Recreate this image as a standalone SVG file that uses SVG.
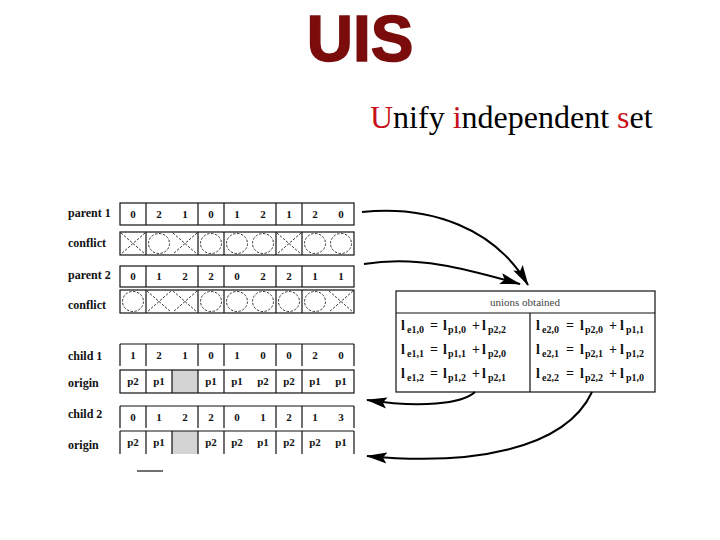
<svg xmlns="http://www.w3.org/2000/svg" width="720" height="540" viewBox="0 0 720 540">
<style>
.lbl{font-family:"Liberation Serif",serif;font-weight:bold;font-size:12px;fill:#111}
.cv{font-family:"Liberation Serif",serif;font-weight:bold;font-size:11px;fill:#111;text-anchor:middle}
.box{fill:none;stroke:#111;stroke-width:1.2}
.ln{stroke:#111;stroke-width:1.2}
.ci{fill:none;stroke:#222;stroke-width:0.9;stroke-dasharray:2.5 1.5}
.eq{font-family:"Liberation Serif",serif;font-weight:bold;font-size:14px;fill:#111}
.sb{font-size:10px}
.conn{fill:none;stroke:#000;stroke-width:2}
</style>
<defs>
<marker id="ah" markerWidth="22" markerHeight="12" refX="20" refY="6" orient="auto" markerUnits="userSpaceOnUse">
<path d="M0,0.5 L21,6 L0,11.5 L4,6 Z" fill="#000"/>
</marker>
</defs>
<rect width="720" height="540" fill="#fff"/>
<g id="title">
<text x="360" y="61" text-anchor="middle" font-family="Liberation Sans, Arial, sans-serif" font-weight="bold" font-size="64" fill="#7a0c0c" stroke="#7a0c0c" stroke-width="1.5">UIS</text>
<text x="370" y="128" font-family="Liberation Serif, serif" font-size="32" fill="#000"><tspan fill="#c8101a">U</tspan>nify <tspan fill="#c8101a">i</tspan>ndependent <tspan fill="#c8101a">s</tspan>et</text>
</g>
<g id="labels">
<text class="lbl" x="68" y="217">parent 1</text>
<text class="lbl" x="68" y="247">conflict</text>
<text class="lbl" x="68" y="279">parent 2</text>
<text class="lbl" x="68" y="309">conflict</text>
<text class="lbl" x="68" y="360">child 1</text>
<text class="lbl" x="68" y="387">origin</text>
<text class="lbl" x="68" y="418">child 2</text>
<text class="lbl" x="68" y="449">origin</text>
</g>
<g id="parent1">
<rect class="box" x="120" y="203" width="234" height="22"/>
<path class="ln" d="M146 203V225M198 203V225M224 203V225M276 203V225M302 203V225"/>
<text class="cv" y="218"><tspan x="133">0</tspan><tspan x="159">2</tspan><tspan x="185">1</tspan><tspan x="211">0</tspan><tspan x="237">1</tspan><tspan x="263">2</tspan><tspan x="289">1</tspan><tspan x="315">2</tspan><tspan x="341">0</tspan></text>
</g>
<g id="conflict1">
<rect class="box" x="120" y="232" width="234" height="23"/>
<path class="ln" d="M146 232V255M198 232V255M224 232V255M276 232V255M302 232V255"/>
<path class="ci" d="M121 233L145 254M145 233L121 254M173 233L197 254M197 233L173 254M277 233L301 254M301 233L277 254"/>
<ellipse class="ci" cx="159" cy="243.5" rx="10.5" ry="10"/>
<ellipse class="ci" cx="211" cy="243.5" rx="10.5" ry="10"/>
<ellipse class="ci" cx="237" cy="243.5" rx="10.5" ry="10"/>
<ellipse class="ci" cx="263" cy="243.5" rx="10.5" ry="10"/>
<ellipse class="ci" cx="315" cy="243.5" rx="10.5" ry="10"/>
<ellipse class="ci" cx="341" cy="243.5" rx="10.5" ry="10"/>
</g>
<g id="parent2">
<rect class="box" x="120" y="266" width="234" height="21"/>
<path class="ln" d="M146 266V287M198 266V287M224 266V287M276 266V287M302 266V287"/>
<text class="cv" y="280"><tspan x="133">0</tspan><tspan x="159">1</tspan><tspan x="185">2</tspan><tspan x="211">2</tspan><tspan x="237">0</tspan><tspan x="263">2</tspan><tspan x="289">2</tspan><tspan x="315">1</tspan><tspan x="341">1</tspan></text>
</g>
<g id="conflict2">
<rect class="box" x="120" y="290" width="234" height="23"/>
<path class="ln" d="M146 290V313M198 290V313M224 290V313M276 290V313M302 290V313"/>
<path class="ci" d="M147 291L171 312M171 291L147 312M173 291L197 312M197 291L173 312M329 291L353 312M353 291L329 312"/>
<ellipse class="ci" cx="133" cy="301.5" rx="10.5" ry="10"/>
<ellipse class="ci" cx="211" cy="301.5" rx="10.5" ry="10"/>
<ellipse class="ci" cx="237" cy="301.5" rx="10.5" ry="10"/>
<ellipse class="ci" cx="263" cy="301.5" rx="10.5" ry="10"/>
<ellipse class="ci" cx="289" cy="301.5" rx="10.5" ry="10"/>
<ellipse class="ci" cx="315" cy="301.5" rx="10.5" ry="10"/>
</g>
<g id="child1">
<path class="ln" d="M120 344H354M120 344V366M146 344V366M198 344V366M224 344V366M276 344V366M302 344V366M354 344V366"/>
<text class="cv" y="359"><tspan x="133">1</tspan><tspan x="159">2</tspan><tspan x="185">1</tspan><tspan x="211">0</tspan><tspan x="237">1</tspan><tspan x="263">0</tspan><tspan x="289">0</tspan><tspan x="315">2</tspan><tspan x="341">0</tspan></text>
</g>
<g id="origin1">
<rect x="172" y="370" width="26" height="23" fill="#d4d4d4"/>
<rect class="box" x="120" y="370" width="234" height="23"/>
<path class="ln" d="M146 370V393M172 370V393M198 370V393M224 370V393M276 370V393M302 370V393"/>
<text class="cv" y="385"><tspan x="133">p2</tspan><tspan x="159">p1</tspan><tspan x="211">p1</tspan><tspan x="237">p1</tspan><tspan x="263">p2</tspan><tspan x="289">p2</tspan><tspan x="315">p1</tspan><tspan x="341">p1</tspan></text>
</g>
<g id="child2">
<path class="ln" d="M120 406H354M120 406V428M146 406V428M198 406V428M224 406V428M276 406V428M302 406V428M354 406V428"/>
<text class="cv" y="421"><tspan x="133">0</tspan><tspan x="159">1</tspan><tspan x="185">2</tspan><tspan x="211">2</tspan><tspan x="237">0</tspan><tspan x="263">1</tspan><tspan x="289">2</tspan><tspan x="315">1</tspan><tspan x="341">3</tspan></text>
</g>
<g id="origin2">
<rect x="172" y="431" width="26" height="23" fill="#d4d4d4"/>
<path class="ln" d="M120 431H354M120 431V454M146 431V454M172 431V454M198 431V454M224 431V454M276 431V454M302 431V454M354 431V454"/>
<text class="cv" y="446"><tspan x="133">p2</tspan><tspan x="159">p1</tspan><tspan x="211">p2</tspan><tspan x="237">p2</tspan><tspan x="263">p1</tspan><tspan x="289">p2</tspan><tspan x="315">p2</tspan><tspan x="341">p1</tspan></text>
</g>
<g id="mark">
<path class="ln" d="M137 471H163"/>
</g>
<g id="unions">
<rect class="box" x="396" y="291" width="259" height="101"/>
<path class="ln" d="M396 313H655M530 313V392"/>
<text x="525" y="306" text-anchor="middle" font-family="Liberation Serif, serif" font-size="11" fill="#444">unions obtained</text>
<text class="eq" y="330"><tspan x="401">l</tspan><tspan class="sb" x="407" dy="3">e1,0</tspan><tspan x="430" dy="-3">=</tspan><tspan x="443">l</tspan><tspan class="sb" x="448" dy="3">p1,0</tspan><tspan x="472" dy="-3">+</tspan><tspan x="482">l</tspan><tspan class="sb" x="488" dy="3">p2,2</tspan></text>
<text class="eq" y="354"><tspan x="401">l</tspan><tspan class="sb" x="407" dy="3">e1,1</tspan><tspan x="430" dy="-3">=</tspan><tspan x="443">l</tspan><tspan class="sb" x="448" dy="3">p1,1</tspan><tspan x="472" dy="-3">+</tspan><tspan x="482">l</tspan><tspan class="sb" x="488" dy="3">p2,0</tspan></text>
<text class="eq" y="378"><tspan x="401">l</tspan><tspan class="sb" x="407" dy="3">e1,2</tspan><tspan x="430" dy="-3">=</tspan><tspan x="443">l</tspan><tspan class="sb" x="448" dy="3">p1,2</tspan><tspan x="472" dy="-3">+</tspan><tspan x="482">l</tspan><tspan class="sb" x="488" dy="3">p2,1</tspan></text>
<text class="eq" y="330"><tspan x="536">l</tspan><tspan class="sb" x="542" dy="3">e2,0</tspan><tspan x="566" dy="-3">=</tspan><tspan x="580">l</tspan><tspan class="sb" x="585" dy="3">p2,0</tspan><tspan x="609" dy="-3">+</tspan><tspan x="620">l</tspan><tspan class="sb" x="626" dy="3">p1,1</tspan></text>
<text class="eq" y="354"><tspan x="536">l</tspan><tspan class="sb" x="542" dy="3">e2,1</tspan><tspan x="566" dy="-3">=</tspan><tspan x="580">l</tspan><tspan class="sb" x="585" dy="3">p2,1</tspan><tspan x="609" dy="-3">+</tspan><tspan x="620">l</tspan><tspan class="sb" x="626" dy="3">p1,2</tspan></text>
<text class="eq" y="378"><tspan x="536">l</tspan><tspan class="sb" x="542" dy="3">e2,2</tspan><tspan x="566" dy="-3">=</tspan><tspan x="580">l</tspan><tspan class="sb" x="585" dy="3">p2,2</tspan><tspan x="609" dy="-3">+</tspan><tspan x="620">l</tspan><tspan class="sb" x="626" dy="3">p1,0</tspan></text>
</g>
<g id="connectors">
<path class="conn" d="M362 212C430 205 495 228 528 285" marker-end="url(#ah)"/>
<path class="conn" d="M364 264C420 255 470 270 520 284" marker-end="url(#ah)"/>
<path class="conn" d="M475 392C462 404 420 408 367 400" marker-end="url(#ah)"/>
<path class="conn" d="M592 392C565 450 470 466 367 456" marker-end="url(#ah)"/>
</g>
</svg>
